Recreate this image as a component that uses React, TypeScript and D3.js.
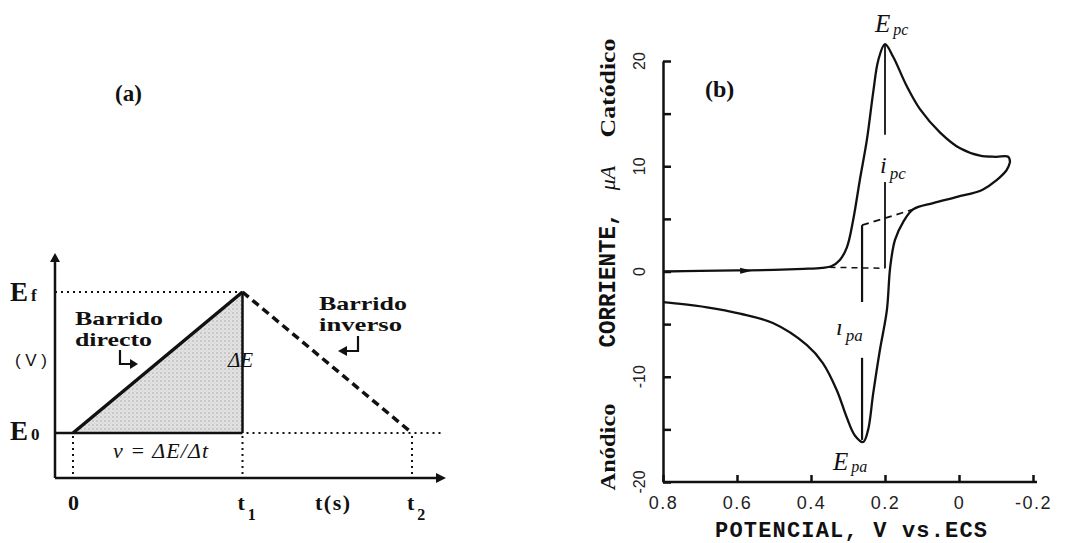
import React, { useRef, useEffect } from "react";
import * as d3 from "d3";

// (a) triangular potential sweep: 0 -> t1 -> t2
const sweepTimes = [0, 1, 2];
const sweepPotentials = [0, 1, 0];
const timeTickLabels = ["0", "t", "t"];
const timeTickSubs = ["", "1", "2"];

// (b) cyclic voltammogram, potential in V vs. ECS, current in µA
const potentialTicks = [0.8, 0.6, 0.4, 0.2, 0, -0.2];
const currentTicks = [-20, -10, 0, 10, 20];
const currentMinorTicks = [-15, -5, 5, 15];

const forwardE = [0.8, 0.7, 0.6, 0.5, 0.42, 0.37, 0.345, 0.322, 0.303, 0.286, 0.268, 0.249, 0.232, 0.218, 0.2, 0.178, 0.141, 0.105, 0.051, -0.003, -0.057, -0.1, -0.133, -0.138];
const forwardI = [0.0, 0.05, 0.1, 0.15, 0.25, 0.35, 0.5, 1.1, 2.3, 4.9, 8.7, 12.5, 17.0, 20.1, 21.6, 20.4, 17.6, 15.4, 13.2, 11.7, 11.0, 10.9, 10.9, 10.4];
const reverseE = [-0.138, -0.128, -0.065, 0.005, 0.07, 0.124, 0.151, 0.173, 0.186, 0.195, 0.214, 0.232, 0.246, 0.259, 0.281, 0.303, 0.33, 0.368, 0.411, 0.503, 0.592, 0.681, 0.773, 0.8];
const reverseI = [10.4, 9.6, 7.8, 7.1, 6.5, 5.9, 4.7, 3.0, 0.4, -3.7, -7.5, -11.6, -15.1, -16.2, -15.6, -13.9, -11.3, -8.7, -7.0, -4.9, -4.0, -3.4, -3.0, -2.9];

const cathodicBaseE = [0.35, 0.2];
const cathodicBaseI = [0.4, 0.3];
const anodicBaseE = [0.262, 0.124];
const anodicBaseI = [4.4, 5.9];
// peak current markers (potential, segments of current with a gap for the label)
const ipcE = 0.2;
const ipcSegments = [[0.3, 8.5], [13, 21.6]];
const ipaE = 0.262;
const ipaSegments = [[4.4, -2.9], [-8.2, -16.0]];

const SERIF = "'Liberation Serif', 'Times New Roman', serif";
const MONO = "'Liberation Mono', 'Courier New', monospace";
const SANS = "'Liberation Sans', Arial, sans-serif";

const App = () => {
  const ref = useRef(null);

  useEffect(() => {
    const svg = d3.select(ref.current);
    svg.selectAll("*").remove();

    const defs = svg.append("defs");
    const pat = defs
      .append("pattern")
      .attr("id", "stipple")
      .attr("width", 4)
      .attr("height", 4)
      .attr("patternUnits", "userSpaceOnUse");
    pat.append("rect").attr("width", 4).attr("height", 4).attr("fill", "#e2e2e2");
    pat.append("circle").attr("cx", 1).attr("cy", 1).attr("r", 0.8).attr("fill", "#a8a8a8");
    pat.append("circle").attr("cx", 3).attr("cy", 3).attr("r", 0.6).attr("fill", "#c4c4c4");

    const sub = (g, x, y, main, s, size, subSize, family, weight, style, dy) => {
      const t = g
        .append("text")
        .attr("x", x)
        .attr("y", y)
        .attr("font-family", family)
        .attr("font-size", size)
        .attr("font-weight", weight)
        .attr("font-style", style)
        .attr("fill", "#111");
      t.append("tspan").text(main);
      if (s) t.append("tspan").attr("dx", 3).attr("dy", dy).attr("font-size", subSize).text(s);
      return t;
    };

    // ---------------- panel (a) ----------------
    const gA = svg.append("g");
    const xA = d3.scaleLinear().domain([0, 2]).range([73, 412]);
    const yA = d3.scaleLinear().domain([0, 1]).range([433, 292]);
    const axX = 55;
    const axY = 478;
    const E0 = sweepPotentials[0];
    const Ef = sweepPotentials[1];
    const t0 = sweepTimes[0];
    const t1 = sweepTimes[1];
    const t2 = sweepTimes[2];
    const line = d3.line().x((d) => xA(d[0])).y((d) => yA(d[1]));

    gA.append("path")
      .attr("d", line([[t0, E0], [t1, Ef], [t1, E0]]) + "Z")
      .attr("fill", "url(#stipple)");

    // dotted guides
    const guide = (x1, y1, x2, y2) => {
      gA.append("line").attr("x1", x1).attr("y1", y1).attr("x2", x2).attr("y2", y2)
        .attr("stroke", "#111").attr("stroke-width", 2).attr("stroke-dasharray", "2 4");
    };
    guide(axX, yA(Ef), xA(t1), yA(Ef));
    guide(xA(t1) + 4, yA(E0), 442, yA(E0));
    sweepTimes.forEach((t) => guide(xA(t), yA(E0) + 3, xA(t), axY));

    // solid E0 baseline, ramp, vertical ΔE
    gA.append("line").attr("x1", axX).attr("y1", yA(E0)).attr("x2", xA(t1)).attr("y2", yA(E0))
      .attr("stroke", "#111").attr("stroke-width", 2.5);
    gA.append("path").attr("d", line([[t0, E0], [t1, Ef]])).attr("stroke", "#111")
      .attr("stroke-width", 3.5).attr("fill", "none");
    gA.append("line").attr("x1", xA(t1)).attr("y1", yA(E0)).attr("x2", xA(t1)).attr("y2", yA(Ef))
      .attr("stroke", "#111").attr("stroke-width", 2.5);
    gA.append("path").attr("d", line([[t1, Ef], [t2, E0]])).attr("stroke", "#111")
      .attr("stroke-width", 3.5).attr("stroke-dasharray", "8 5").attr("fill", "none");

    // axes with arrows
    gA.append("line").attr("x1", axX).attr("y1", axY).attr("x2", axX).attr("y2", 258)
      .attr("stroke", "#111").attr("stroke-width", 2.5);
    gA.append("path").attr("d", `M${axX - 5},${262} L${axX},${253} L${axX + 5},${262} Z`).attr("fill", "#111");
    gA.append("line").attr("x1", axX).attr("y1", axY).attr("x2", 440).attr("y2", axY)
      .attr("stroke", "#111").attr("stroke-width", 2.5);
    gA.append("path").attr("d", `M${436},${axY - 5} L${446},${axY} L${436},${axY + 5} Z`).attr("fill", "#111");

    // labels
    sub(gA, 10, 301, "E", "f", 27, 17, SERIF, "bold", "normal", 0);
    sub(gA, 10, 440, "E", "0", 27, 17, SERIF, "bold", "normal", 0);
    gA.append("text").attr("x", 15).attr("y", 366).attr("font-family", SANS).attr("font-size", 17)
      .attr("textLength", 32).attr("fill", "#111").text("(V)");
    timeTickLabels.forEach((lab, i) => {
      const x = xA(sweepTimes[i]) - 5;
      sub(gA, x, 510, lab, timeTickSubs[i], 22, 16, SERIF, "bold", "normal", 10);
    });
    gA.append("text").attr("x", 315).attr("y", 510).attr("font-family", SERIF).attr("font-size", 22)
      .attr("font-weight", "bold").attr("textLength", 35).attr("fill", "#111").text("t(s)");

    const bold = (x, y, s, len) =>
      gA.append("text").attr("x", x).attr("y", y).attr("font-family", SERIF).attr("font-size", 19)
        .attr("font-weight", "bold").attr("textLength", len).attr("lengthAdjust", "spacingAndGlyphs")
        .attr("fill", "#111").text(s);
    bold(75, 325, "Barrido", 88);
    bold(75, 346, "directo", 77);
    bold(319, 310, "Barrido", 88);
    bold(319, 331, "inverso", 83);

    gA.append("text").attr("x", 228).attr("y", 367).attr("font-family", SERIF).attr("font-size", 21)
      .attr("font-style", "italic").attr("fill", "#111").text("ΔE");
    gA.append("text").attr("x", 113).attr("y", 458).attr("font-family", SERIF).attr("font-size", 22)
      .attr("font-style", "italic").attr("textLength", 95).attr("fill", "#111").text("ν = ΔE/Δt");

    // bent arrows
    gA.append("path").attr("d", "M120,350 L120,364 L131,364").attr("stroke", "#111").attr("stroke-width", 2.2).attr("fill", "none");
    gA.append("path").attr("d", "M130,359 L138,364 L130,369 Z").attr("fill", "#111");
    gA.append("path").attr("d", "M358,336 L358,351 L346,351").attr("stroke", "#111").attr("stroke-width", 2.2).attr("fill", "none");
    gA.append("path").attr("d", "M347,346 L338,351 L347,356 Z").attr("fill", "#111");

    gA.append("text").attr("x", 115).attr("y", 101).attr("font-family", SERIF).attr("font-size", 23)
      .attr("font-weight", "bold").attr("fill", "#111").text("(a)");

    // ---------------- panel (b) ----------------
    const gB = svg.append("g");
    const xB = d3.scaleLinear().domain([0.8, -0.2]).range([663, 1033]);
    const yB = d3.scaleLinear().domain([-20, 20]).range([482, 61]);

    const yAxis = gB.append("g").attr("transform", `translate(${xB(0.8)},0)`)
      .call(d3.axisLeft(yB).tickValues([...currentTicks, ...currentMinorTicks]).tickSize(-8).tickSizeOuter(0).tickFormat(() => ""));
    yAxis.selectAll("path, line").attr("stroke", "#111").attr("stroke-width", 2.5);

    const xAxis = gB.append("g").attr("transform", `translate(0,${yB(-20)})`)
      .call(d3.axisBottom(xB).tickValues(potentialTicks).tickSize(-7).tickSizeOuter(0).tickPadding(14)
        .tickFormat((d) => String(d)));
    xAxis.select(".domain").attr("d", `M${xB(0.8)},0H1037`);
    xAxis.selectAll("path, line").attr("stroke", "#111").attr("stroke-width", 2.5);
    xAxis.selectAll("text").attr("font-family", SANS).attr("font-size", 18).attr("letter-spacing", 1.5)
      .attr("fill", "#222");

    gB.selectAll(".ytl").data(currentTicks).join("text").attr("class", "ytl")
      .attr("transform", (d) => `translate(645,${yB(d)}) rotate(-90)`)
      .attr("text-anchor", "middle").attr("font-family", SANS).attr("font-size", 16).attr("fill", "#222")
      .text((d) => String(d));

    const cv = d3.line().x((d) => xB(d[0])).y((d) => yB(d[1])).curve(d3.curveCatmullRom.alpha(0.5));
    gB.append("path").attr("d", cv(forwardE.map((e, i) => [e, forwardI[i]])))
      .attr("fill", "none").attr("stroke", "#111").attr("stroke-width", 2.3);
    gB.append("path").attr("d", cv(reverseE.map((e, i) => [e, reverseI[i]])))
      .attr("fill", "none").attr("stroke", "#111").attr("stroke-width", 2.3);

    // scan-direction arrowhead on forward branch
    const ax = xB(0.57);
    const ay = yB(0.08);
    gB.append("path").attr("d", `M${ax - 8},${ay - 3} L${ax + 4},${ay} L${ax - 8},${ay + 3} Z`).attr("fill", "#111");

    const straight = d3.line().x((d) => xB(d[0])).y((d) => yB(d[1]));
    gB.append("path").attr("d", straight(cathodicBaseE.map((e, i) => [e, cathodicBaseI[i]])))
      .attr("stroke", "#111").attr("stroke-width", 1.5).attr("stroke-dasharray", "6 5").attr("fill", "none");
    gB.append("path").attr("d", straight(anodicBaseE.map((e, i) => [e, anodicBaseI[i]])))
      .attr("stroke", "#111").attr("stroke-width", 1.8).attr("stroke-dasharray", "7 5").attr("fill", "none");
    ipcSegments.forEach((s) => {
      gB.append("line").attr("x1", xB(ipcE)).attr("x2", xB(ipcE)).attr("y1", yB(s[0])).attr("y2", yB(s[1]))
        .attr("stroke", "#111").attr("stroke-width", 1.8);
    });
    ipaSegments.forEach((s) => {
      gB.append("line").attr("x1", xB(ipaE)).attr("x2", xB(ipaE)).attr("y1", yB(s[0])).attr("y2", yB(s[1]))
        .attr("stroke", "#111").attr("stroke-width", 2.2);
    });

    sub(gB, 875, 32, "E", "pc", 25, 16, SERIF, "normal", "italic", 3);
    sub(gB, 880, 173, "i", "pc", 24, 17, SERIF, "normal", "italic", 6);
    sub(gB, 836, 335, "ı", "pa", 24, 17, SERIF, "normal", "italic", 6);
    sub(gB, 833, 470, "E", "pa", 25, 16, SERIF, "normal", "italic", 2);

    gB.append("text").attr("x", 705).attr("y", 97).attr("font-family", SERIF).attr("font-size", 24)
      .attr("font-weight", "bold").attr("fill", "#111").text("(b)");

    // axis titles
    gB.append("text").attr("x", 851).attr("y", 537).attr("text-anchor", "middle").attr("font-family", MONO)
      .attr("font-size", 22).attr("font-weight", "bold").attr("textLength", 272).attr("fill", "#111")
      .text("POTENCIAL, V vs.ECS");
    const rot = (y, s, family, size, weight, style, len) => {
      const t = gB.append("text").attr("transform", `translate(615,${y}) rotate(-90)`)
        .attr("text-anchor", "middle").attr("font-family", family).attr("font-size", size)
        .attr("font-weight", weight).attr("font-style", style).attr("fill", "#111").text(s);
      if (len) t.attr("textLength", len).attr("lengthAdjust", "spacingAndGlyphs");
    };
    rot(447, "Anódico", SERIF, 22, "bold", "normal", 87);
    rot(280, "CORRIENTE,", MONO, 23, "bold", "normal", 135);
    rot(178, "μA", SERIF, 22, "normal", "italic", 0);
    rot(88, "Catódico", SERIF, 22, "bold", "normal", 99);
  }, []);

  return (
    <svg
      ref={ref}
      width={1072}
      height={543}
      style={{ position: "absolute", left: 0, top: 0, background: "#fff" }}
    ></svg>
  );
};

export default App;
